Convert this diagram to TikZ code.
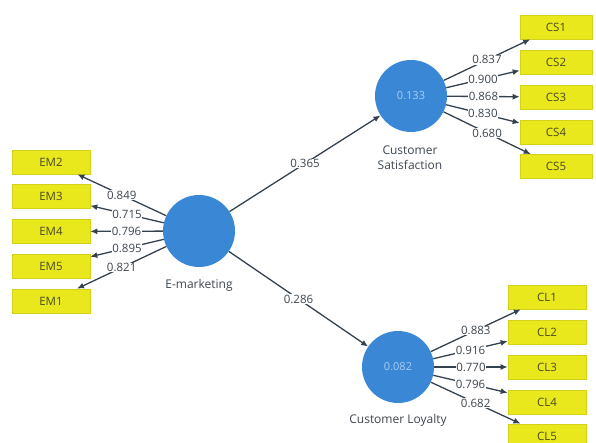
\documentclass[tikz,border=0pt]{standalone}
\usepackage{fontspec}
\setmainfont{Open Sans}
\usetikzlibrary{arrows.meta}
\definecolor{lv}{HTML}{3A87D5}
\definecolor{ind}{HTML}{E8E81C}
\definecolor{indb}{HTML}{D2D21A}
\definecolor{edge}{HTML}{34424F}
\definecolor{itxt}{HTML}{4A4A22}
\definecolor{ltxt}{HTML}{3E4650}
\definecolor{lvtxt}{HTML}{A8CDF2}
\tikzset{
  latent/.style={circle, fill=lv, draw=none, minimum size=72pt, inner sep=0pt, font=\fontsize{11}{12}\selectfont, text=lvtxt},
  indbox/.style={rectangle, fill=ind, draw=indb, line width=0.6pt, minimum height=24pt, inner sep=0pt, font=\fontsize{11.5}{12}\selectfont, text=itxt},
  emb/.style={indbox, minimum width=78pt},
  csb/.style={indbox, minimum width=72pt},
  load/.style={draw=edge, line width=1.3pt, -{Latex[length=7pt,width=6pt]}},
  lbl/.style={fill=white, inner sep=0.6pt, font=\fontsize{11.5}{12}\selectfont, text=ltxt},
  lvcaption/.style={font=\fontsize{12}{15}\selectfont, text=ltxt, align=center}
}
\begin{document}
\begin{tikzpicture}[x=1pt,y=-1pt]
\useasboundingbox (0,0) rectangle (596,443);
% latent variables
\node[latent] (em) at (199,231) {};
\node[latent] (cs) at (411,96) {0.133};
\node[latent] (cl) at (398,367) {0.082};
\node[lvcaption] (emc) at (199,285) {E-marketing};
\node[lvcaption, inner sep=0pt] (csc) at (410,158) {Customer\\Satisfaction};
\node[lvcaption] (clc) at (398,420) {Customer Loyalty};
% EM indicators
\node[emb] (em2) at (51,162) {EM2};
\node[emb] (em3) at (51,196.5) {EM3};
\node[emb] (em4) at (51,231.5) {EM4};
\node[emb] (em5) at (51,266) {EM5};
\node[emb] (em1) at (51,301) {EM1};
% CS indicators
\node[csb] (cs1) at (556,27) {CS1};
\node[csb] (cs2) at (556,62) {CS2};
\node[csb] (cs3) at (556,97) {CS3};
\node[csb] (cs4) at (556,132) {CS4};
\node[csb] (cs5) at (556,166.5) {CS5};
% CL indicators
\node[emb] (cl1) at (547,297) {CL1};
\node[emb] (cl2) at (547,332) {CL2};
\node[emb] (cl3) at (547,367) {CL3};
\node[emb] (cl4) at (547,402) {CL4};
\node[emb] (cl5) at (547,436) {CL5};
% paths
\draw[load] (em) -- node[lbl] {0.365} (cs);
\draw[load] (em) -- node[lbl] {0.286} (cl);
% EM loadings
\draw[load] (em) -- node[lbl] {0.849} (em2);
\draw[load] (em) -- node[lbl] {0.715} (em3);
\draw[load] (em) -- node[lbl] {0.796} (em4);
\draw[load] (em) -- node[lbl] {0.895} (em5);
\draw[load] (em) -- node[lbl] {0.821} (em1);
% CS loadings
\draw[load] (cs) -- node[lbl] {0.837} (cs1);
\draw[load] (cs) -- node[lbl] {0.900} (cs2);
\draw[load] (cs) -- node[lbl] {0.868} (cs3);
\draw[load] (cs) -- node[lbl] {0.830} (cs4);
\draw[load] (cs) -- node[lbl] {0.680} (cs5);
% CL loadings
\draw[load] (cl) -- node[lbl] {0.883} (cl1);
\draw[load] (cl) -- node[lbl] {0.916} (cl2);
\draw[load] (cl) -- node[lbl] {0.770} (cl3);
\draw[load] (cl) -- node[lbl] {0.796} (cl4);
\draw[load] (cl) -- node[lbl] {0.682} (cl5);
\end{tikzpicture}
\end{document}
